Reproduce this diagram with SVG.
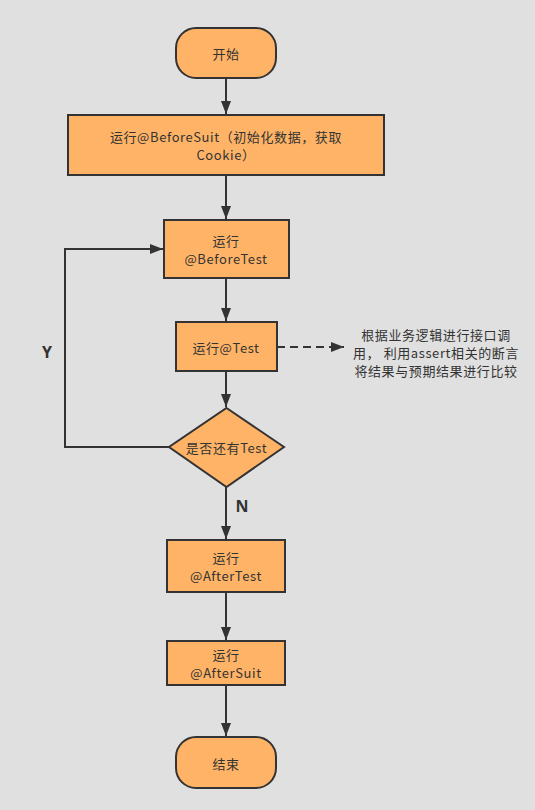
<svg xmlns="http://www.w3.org/2000/svg" width="535" height="810" viewBox="0 0 535 810">
<defs>
<style>
.n{fill:#FFB366;stroke:#333;stroke-width:2}
.t{font-family:"Noto Sans CJK SC","Noto Sans",sans-serif;font-size:13px;letter-spacing:0.6px;fill:#333;text-anchor:middle;dominant-baseline:central}
.c{fill:none;stroke:#333;stroke-width:2}
.b{font-family:"Noto Sans","Liberation Sans",sans-serif;font-size:16px;font-weight:bold;fill:#333;text-anchor:middle;dominant-baseline:central}
</style>
<marker id="ah" markerWidth="14" markerHeight="14" refX="13" refY="5" orient="auto" markerUnits="userSpaceOnUse">
<path d="M0,0 L13,5 L0,10 Z" fill="#333"/>
</marker>
</defs>
<rect width="535" height="810" fill="#E0E0E0"/>
<g id="connectors">
<line class="c" x1="226" y1="78" x2="226" y2="114" marker-end="url(#ah)"/>
<line class="c" x1="226" y1="175" x2="226" y2="219" marker-end="url(#ah)"/>
<line class="c" x1="226" y1="278" x2="226" y2="321" marker-end="url(#ah)"/>
<line class="c" x1="226" y1="371" x2="226" y2="407" marker-end="url(#ah)"/>
<polyline class="c" points="169,447 65,447 65,249 163,249" marker-end="url(#ah)"/>
<line class="c" x1="226" y1="487" x2="226" y2="539" marker-end="url(#ah)"/>
<line class="c" x1="226" y1="592" x2="226" y2="640" marker-end="url(#ah)"/>
<line class="c" x1="226" y1="685" x2="226" y2="736" marker-end="url(#ah)"/>
<line class="c" x1="277" y1="347" x2="344" y2="347" stroke-dasharray="8,5" marker-end="url(#ah)"/>
<text class="b" x="47" y="352">Y</text>
<text class="b" x="242" y="506">N</text>
</g>
<g id="start">
<rect class="n" x="176" y="28" width="100" height="50" rx="20"/>
<text class="t" x="226" y="53">开始</text>
</g>
<g id="beforeSuit">
<rect class="n" x="68" y="115" width="316" height="60"/>
<text class="t" x="226" y="136">运行@BeforeSuit（初始化数据，获取</text>
<text class="t" x="226" y="154">Cookie）</text>
</g>
<g id="beforeTest">
<rect class="n" x="164" y="220" width="125" height="58"/>
<text class="t" x="226" y="240">运行</text>
<text class="t" x="226" y="258">@BeforeTest</text>
</g>
<g id="test">
<rect class="n" x="176" y="322" width="101" height="49"/>
<text class="t" x="226" y="347">运行@Test</text>
</g>
<g id="note">
<text class="t" x="436" y="334">根据业务逻辑进行接口调</text>
<text class="t" x="436" y="352">用， 利用assert相关的断言</text>
<text class="t" x="436" y="370">将结果与预期结果进行比较</text>
</g>
<g id="decision">
<polygon class="n" points="226.5,408 284,447 226.5,487 169,447"/>
<text class="t" x="226.5" y="447">是否还有Test</text>
</g>
<g id="afterTest">
<rect class="n" x="167" y="540" width="118" height="52"/>
<text class="t" x="226" y="557">运行</text>
<text class="t" x="226" y="575">@AfterTest</text>
</g>
<g id="afterSuit">
<rect class="n" x="167" y="641" width="118" height="44"/>
<text class="t" x="226" y="654">运行</text>
<text class="t" x="226" y="672">@AfterSuit</text>
</g>
<g id="end">
<rect class="n" x="176" y="737" width="100" height="51" rx="20"/>
<text class="t" x="226" y="763">结束</text>
</g>
</svg>
